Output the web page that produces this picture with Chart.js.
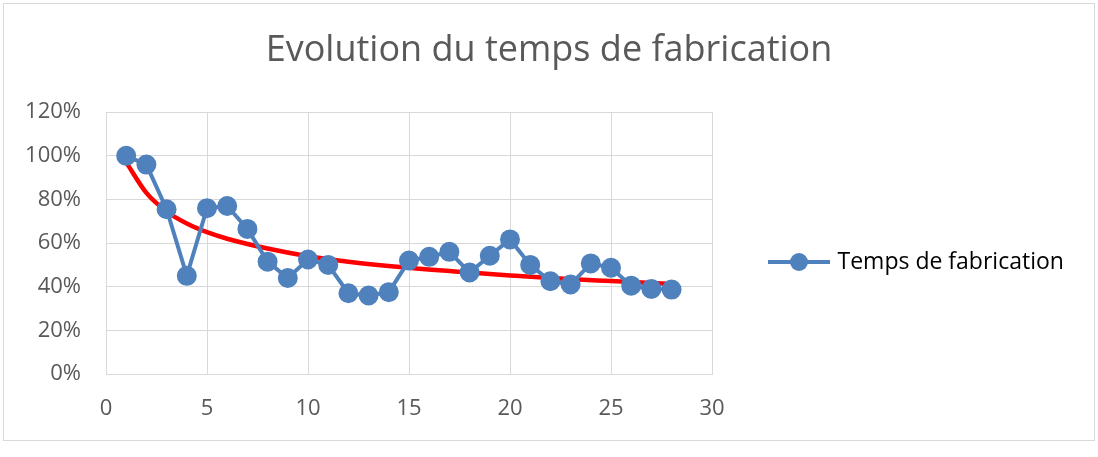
<!DOCTYPE html>
<html>
<head>
<meta charset="utf-8">
<script src="https://cdn.jsdelivr.net/npm/chart.js@4.4.0/dist/chart.umd.min.js"></script>
<style>
    html, body { margin: 0; padding: 0; background: #fff; }
    #box {
        position: absolute; left: 3px; top: 3px;
        width: 1090px; height: 436px;
        border: 1px solid #d9d9d9; background: #fff;
    }
</style>
</head>
<body>
<div id="box"><canvas id="chart"></canvas></div>
<script>
// Data
const runs = [1, 2, 3, 4, 5, 6, 7, 8, 9, 10, 11, 12, 13, 14, 15, 16, 17, 18, 19, 20, 21, 22, 23, 24, 25, 26, 27, 28];
const tempsFabrication = [100, 96, 75.5, 45, 76, 77, 66.5, 51.5, 44, 52.5, 50, 37, 36, 37.5, 52, 53.7, 56, 46.5, 54.2, 61.7, 50, 42.5, 41, 50.7, 48.7, 40.5, 39, 38.7];
// red trend curve, read at a few points
const trendX = [1, 2, 3, 4, 5, 6, 8, 10, 12, 15, 18, 20, 22, 25, 28];
const trendY = [97, 83, 74.5, 69, 65, 62, 57.5, 54, 51.5, 48.7, 46.5, 45.2, 44, 42.6, 41.3];
const xTicks = [0, 5, 10, 15, 20, 25, 30];
const yTicks = [0, 20, 40, 60, 80, 100, 120];

const FONT = "'Open Sans', 'Liberation Sans', sans-serif";
const GRAY = '#595959';
const BLUE = '#4f81bd';

document.addEventListener('DOMContentLoaded', function() {
    const ctx = document.getElementById('chart');
    new Chart(ctx, {
        type: 'line',
        data: {
            datasets: [{
                label: 'Temps de fabrication',
                data: runs.map((x, i) => ({ x: x, y: tempsFabrication[i] })),
                borderColor: BLUE,
                backgroundColor: BLUE,
                borderWidth: 4,
                pointRadius: 8,
                pointHoverRadius: 8,
                tension: 0
            }, {
                label: 'trend',
                data: trendX.map((x, i) => ({ x: x, y: trendY[i] })),
                borderColor: '#ff0000',
                backgroundColor: '#ff0000',
                borderWidth: 4.5,
                pointRadius: 0,
                cubicInterpolationMode: 'monotone'
            }]
        },
        options: {
            responsive: true,
            maintainAspectRatio: false,
            animation: false,
            layout: { padding: 0 },
            plugins: {
                title: {
                    display: true,
                    text: 'Evolution du temps de fabrication',
                    color: GRAY,
                    font: { family: FONT, size: 36, weight: 'normal' },
                    padding: { top: 25, bottom: 40 }
                },
                legend: {
                    position: 'right',
                    labels: {
                        color: GRAY,
                        font: { family: FONT, size: 23 },
                        boxWidth: 58,
                        padding: 56,
                        generateLabels: chart => [{
                            text: 'Temps de fabrication',
                            fillStyle: BLUE,
                            strokeStyle: BLUE,
                            lineWidth: 0,
                            datasetIndex: 0
                        }]
                    }
                },
                tooltip: { enabled: false }
            },
            scales: {
                x: {
                    type: 'linear',
                    min: 0, max: 30,
                    afterBuildTicks: axis => { axis.ticks = xTicks.map(v => ({ value: v })); },
                    afterFit: axis => { axis.height = 66; },
                    grid: { color: '#d9d9d9', lineWidth: 1, drawTicks: false },
                    border: { color: '#d9d9d9' },
                    ticks: { color: GRAY, font: { family: FONT, size: 22 }, padding: 22, maxRotation: 0 }
                },
                y: {
                    min: 0, max: 120,
                    afterBuildTicks: axis => { axis.ticks = yTicks.map(v => ({ value: v })); },
                    afterFit: axis => { axis.width = 102; },
                    grid: { color: '#d9d9d9', lineWidth: 1, drawTicks: false },
                    border: { color: '#d9d9d9' },
                    ticks: { color: GRAY, font: { family: FONT, size: 22 }, padding: 25, callback: v => v + '%' }
                }
            }
        },
        plugins: [{
            // fixed legend width and vertical position like the reference
            id: 'legendPlace',
            afterInit(chart) {
                const lg = chart.legend;
                const fit = lg.fit.bind(lg);
                lg.fit = function() { fit(); this.width = 382; };
            },
            afterLayout(chart) {
                chart.legend.top += 40;
                chart.legend.bottom += 40;
            },
            // legend marker: line with a dot in the middle
            afterDraw(chart) {
                const items = chart.legend.legendHitBoxes;
                if (!items || !items.length) return;
                const b = items[0];
                const c = chart.ctx;
                c.save();
                c.fillStyle = '#ffffff';
                c.fillRect(b.left - 2, b.top - 4, 62, b.height + 8);
                const cy = b.top + b.height / 2;
                c.strokeStyle = BLUE;
                c.lineWidth = 4;
                c.beginPath();
                c.moveTo(b.left, cy);
                c.lineTo(b.left + 62, cy);
                c.stroke();
                c.fillStyle = BLUE;
                c.beginPath();
                c.arc(b.left + 31, cy, 9, 0, Math.PI * 2);
                c.fill();
                c.restore();
            }
        }]
    });
});
</script>
</body>
</html>
